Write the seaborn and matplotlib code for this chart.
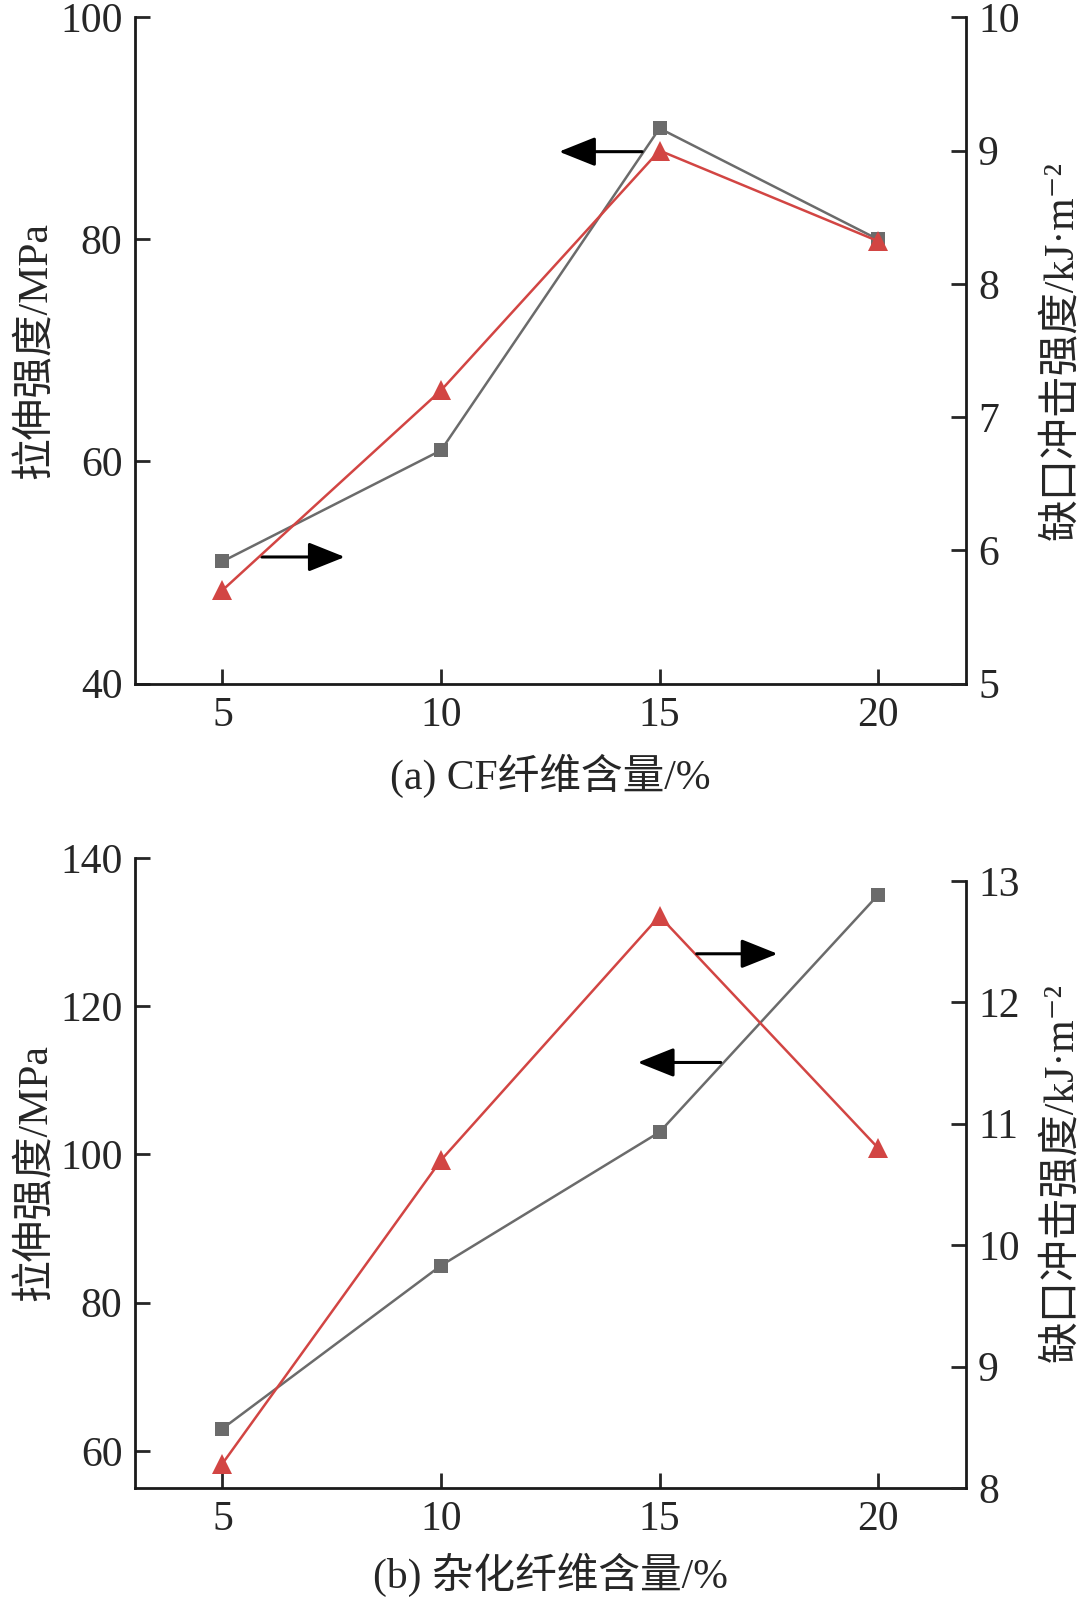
import matplotlib
matplotlib.use('Agg')
import matplotlib.pyplot as plt
import seaborn as sns
import pandas as pd

# fibre content (%)
content = [5, 10, 15, 20]

# panel (a): CF fibre
tensile_a = [51, 61, 90, 80]        # MPa, left axis
impact_a = [5.70, 7.20, 9.00, 8.32]  # kJ/m2, right axis

# panel (b): hybrid fibre
tensile_b = [63, 85, 103, 135]
impact_b = [8.20, 10.70, 12.71, 10.80]

xlabel_a = '(a) CF纤维含量/%'
xlabel_b = '(b) 杂化纤维含量/%'
ylabel_left = '拉伸强度/MPa'
ylabel_right = '缺口冲击强度/kJ·m⁻²'

sns.set_style('ticks')
plt.rcParams['font.family'] = ['Liberation Serif', 'Noto Sans CJK SC', 'DejaVu Serif']

GRAY = '#6b6b6b'
RED = '#d24543'
FS = 30


def style_axis(ax):
    ax.tick_params(direction='in', length=11, width=2, labelsize=FS, pad=9)
    for s in ax.spines.values():
        s.set_linewidth(2)
        s.set_color('#1a1a1a')


def arrow(ax, x0, x1, y):
    ax.annotate('', xy=(x1, y), xytext=(x0, y),
                arrowprops=dict(arrowstyle='-|>,head_length=0.75,head_width=0.3',
                                mutation_scale=30, lw=2.2, color='black',
                                shrinkA=0, shrinkB=0))


def panel(rect, tensile, impact, ylim_l, yticks_l, ylim_r, yticks_r, rbounds,
          xlabel, xpad):
    ax = fig.add_axes(rect)
    df = pd.DataFrame({'content': content, 'tensile': tensile, 'impact': impact})
    sns.lineplot(data=df, x='content', y='tensile', ax=ax, color=GRAY, lw=1.8,
                 marker='s', markersize=10, markeredgewidth=0, legend=False)
    ax2 = ax.twinx()
    sns.lineplot(data=df, x='content', y='impact', ax=ax2, color=RED, lw=1.8,
                 marker='^', markersize=15, markeredgewidth=0, legend=False)

    ax.set_xlim(3, 22)
    ax.set_xticks(content)
    ax.set_ylim(*ylim_l)
    ax.set_yticks(yticks_l)
    ax2.set_ylim(*ylim_r)
    ax2.set_yticks(yticks_r)

    style_axis(ax)
    style_axis(ax2)
    ax.spines['top'].set_visible(False)
    ax.spines['right'].set_visible(False)
    ax2.spines['top'].set_visible(False)
    ax2.spines['left'].set_visible(False)
    ax2.spines['bottom'].set_visible(False)
    ax2.spines['right'].set_bounds(*rbounds)

    ax.set_xlabel(xlabel, fontsize=FS, labelpad=xpad)
    ax.set_ylabel(ylabel_left, fontsize=FS, labelpad=3)
    ax2.set_ylabel(ylabel_right, fontsize=FS, labelpad=16)
    return ax, ax2


fig = plt.figure(figsize=(10.8, 16.02), dpi=100)

ax_a, ax_a2 = panel([0.125, 0.5733, 0.769, 0.4159], tensile_a, impact_a,
                    (40, 100), [40, 60, 80, 100], (5, 10), [5, 6, 7, 8, 9, 10],
                    (5, 10), xlabel_a, 14)
arrow(ax_a, 14.6, 12.7, 87.9)
arrow(ax_a, 5.9, 7.8, 51.4)

ax_b, ax_b2 = panel([0.125, 0.0712, 0.769, 0.3933], tensile_b, impact_b,
                    (55, 140), [60, 80, 100, 120, 140], (8, 13.19),
                    [8, 9, 10, 11, 12, 13], (8, 13), xlabel_b, 10)
arrow(ax_b2, 15.85, 17.7, 12.40)
arrow(ax_b, 16.4, 14.5, 112.4)

fig.savefig('out.png', dpi=100)
